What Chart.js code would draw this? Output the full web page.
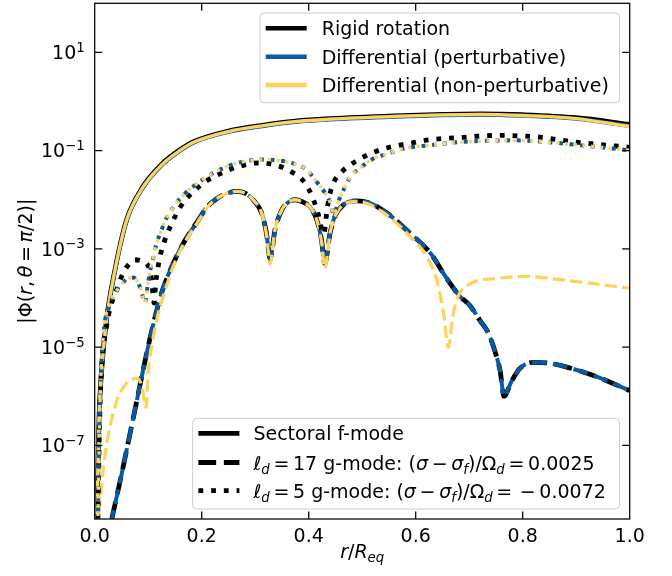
<!DOCTYPE html>
<html>
<head>
<meta charset="utf-8">
<title>Phi profile</title>
<script src="https://cdn.jsdelivr.net/npm/chart.js@4.4.1/dist/chart.umd.min.js"></script>
<style>
  html, body { margin: 0; padding: 0; background: #fff; }
  #wrap { width: 672px; height: 576px; }
</style>
</head>
<body>
<div id="wrap"><canvas id="phi" width="672" height="576"></canvas></div>
<script>
// radius r/R_eq and |Phi| on the equator, for three modes and three rotation laws

// sectoral f-mode
const fModeR = [0.004, 0.008, 0.013, 0.022, 0.038, 0.06, 0.09, 0.125, 0.156, 0.187, 0.25, 0.31, 0.375, 0.44, 0.56, 0.65, 0.72, 0.8, 0.9, 1.0];
const fModeRigid = [3.25e-9, 3.35e-7, 3.45e-6, 3.6e-5, 3.8e-4, 4.0e-3, 1.83e-2, 5.25e-2, 9.8e-2, 0.155, 0.251, 0.324, 0.399, 0.448, 0.512, 0.548, 0.563, 0.538, 0.468, 0.342];
const fModePert = [3.15e-9, 3.25e-7, 3.35e-6, 3.45e-5, 3.65e-4, 3.84e-3, 1.75e-2, 5.0e-2, 9.35e-2, 0.149, 0.241, 0.311, 0.383, 0.43, 0.492, 0.527, 0.54, 0.512, 0.445, 0.318];
const fModeNonPert = [3.2e-9, 3.3e-7, 3.4e-6, 3.5e-5, 3.7e-4, 3.9e-3, 1.78e-2, 5.1e-2, 9.5e-2, 0.151, 0.245, 0.316, 0.389, 0.437, 0.5, 0.535, 0.548, 0.52, 0.45, 0.309];

// l_d = 17 g-mode (rigid and perturbative coincide)
const g17R = [0.032, 0.05, 0.07, 0.09, 0.105, 0.125, 0.15, 0.169, 0.194, 0.21, 0.228, 0.245, 0.265, 0.282, 0.296, 0.312, 0.321, 0.328, 0.337, 0.35, 0.362, 0.374, 0.388, 0.402, 0.415, 0.424, 0.43, 0.44, 0.449, 0.465, 0.49, 0.515, 0.55, 0.589, 0.627, 0.658, 0.683, 0.701, 0.72, 0.735, 0.751, 0.758, 0.765, 0.779, 0.795, 0.82, 0.85, 0.876, 0.938, 1.0];
const g17Rot = [3.2e-9, 2.5e-8, 2.8e-7, 3.2e-6, 1.8e-5, 1.26e-4, 6.0e-4, 1.5e-3, 3.9e-3, 7.1e-3, 1.05e-2, 1.32e-2, 1.48e-2, 1.35e-2, 1.0e-2, 5.4e-3, 2.1e-3, 6.3e-4, 2.45e-3, 6.3e-3, 8.9e-3, 1.0e-2, 9.1e-3, 7.2e-3, 3.9e-3, 1.5e-3, 5.0e-4, 2.1e-3, 4.6e-3, 7.9e-3, 9.5e-3, 8.5e-3, 5.0e-3, 2.1e-3, 8.3e-4, 2.5e-4, 1.07e-4, 7.1e-5, 3.5e-5, 2.0e-5, 6.5e-6, 3.2e-6, 1.0e-6, 2.0e-6, 3.7e-6, 4.9e-6, 4.7e-6, 4.1e-6, 2.5e-6, 1.3e-6];
const g17NonPertR = [0.007, 0.019, 0.038, 0.06, 0.078, 0.088, 0.096, 0.1, 0.108, 0.116, 0.128, 0.15, 0.169, 0.194, 0.21, 0.228, 0.245, 0.265, 0.282, 0.296, 0.312, 0.321, 0.328, 0.337, 0.35, 0.362, 0.374, 0.388, 0.402, 0.415, 0.424, 0.43, 0.44, 0.449, 0.465, 0.49, 0.515, 0.55, 0.589, 0.62, 0.64, 0.652, 0.661, 0.67, 0.68, 0.7, 0.75, 0.81, 0.85, 0.91, 1.0];
const g17NonPert = [3.2e-9, 5.9e-8, 6.2e-7, 1.86e-6, 2.3e-6, 1.66e-6, 5.9e-7, 3.2e-6, 1.26e-5, 3.6e-5, 1.07e-4, 5.4e-4, 1.4e-3, 3.7e-3, 6.9e-3, 1.05e-2, 1.32e-2, 1.48e-2, 1.35e-2, 1.0e-2, 5.4e-3, 2.0e-3, 5.0e-4, 2.45e-3, 6.3e-3, 8.9e-3, 1.0e-2, 9.1e-3, 7.2e-3, 3.9e-3, 1.4e-3, 4.0e-4, 2.1e-3, 4.6e-3, 7.9e-3, 9.3e-3, 7.9e-3, 4.5e-3, 1.8e-3, 7.1e-4, 2.2e-4, 5.0e-5, 1.0e-5, 4.5e-5, 1.12e-4, 1.9e-4, 2.5e-4, 2.75e-4, 2.5e-4, 2.1e-4, 1.58e-4];

// l_d = 5 g-mode (both differential laws coincide)
const g5RigidR = [0.006, 0.009, 0.013, 0.022, 0.029, 0.041, 0.053, 0.065, 0.075, 0.088, 0.1, 0.106, 0.111, 0.114, 0.118, 0.122, 0.131, 0.144, 0.16, 0.181, 0.206, 0.237, 0.268, 0.305, 0.337, 0.368, 0.393, 0.409, 0.418, 0.428, 0.435, 0.443, 0.462, 0.493, 0.524, 0.555, 0.589, 0.624, 0.658, 0.689, 0.723, 0.758, 0.792, 0.826, 0.895, 1.0];
const g5Rigid = [3.2e-9, 2.5e-7, 4.0e-6, 2.6e-5, 6.3e-5, 1.48e-4, 3.2e-4, 5.0e-4, 6.0e-4, 5.6e-4, 4.5e-4, 2.5e-4, 7.9e-5, 2.0e-4, 4.0e-4, 6.9e-4, 1.5e-3, 3.3e-3, 7.1e-3, 1.35e-2, 2.3e-2, 3.5e-2, 4.7e-2, 5.6e-2, 5.1e-2, 3.7e-2, 2.2e-2, 1.0e-2, 5.0e-3, 2.0e-3, 7.1e-3, 1.78e-2, 3.7e-2, 6.5e-2, 9.5e-2, 0.12, 0.141, 0.166, 0.178, 0.186, 0.2, 0.204, 0.2, 0.191, 0.151, 0.117];
const g5DiffR = [0.006, 0.009, 0.012, 0.017, 0.029, 0.044, 0.06, 0.072, 0.08, 0.087, 0.094, 0.099, 0.104, 0.11, 0.116, 0.125, 0.135, 0.15, 0.169, 0.206, 0.24, 0.262, 0.29, 0.318, 0.345, 0.371, 0.396, 0.415, 0.43, 0.44, 0.447, 0.455, 0.465, 0.477, 0.502, 0.521, 0.546, 0.577, 0.627, 0.677, 0.726, 0.789, 0.85, 0.907, 1.0];
const g5Diff = [3.2e-9, 2.5e-7, 3.4e-6, 2.2e-5, 7.9e-5, 1.58e-4, 2.4e-4, 2.6e-4, 2.2e-4, 1.4e-4, 7.9e-5, 1.8e-4, 3.8e-4, 6.9e-4, 1.32e-3, 2.45e-3, 4.4e-3, 7.9e-3, 1.35e-2, 2.75e-2, 4.4e-2, 5.4e-2, 6.3e-2, 6.6e-2, 6.3e-2, 5.5e-2, 4.1e-2, 2.3e-2, 1.4e-2, 8.9e-3, 5.0e-3, 8.9e-3, 1.58e-2, 2.8e-2, 5.0e-2, 6.9e-2, 8.5e-2, 0.11, 0.129, 0.148, 0.158, 0.162, 0.148, 0.129, 0.102];

// axes
const yMin = 3.162e-9;
const yMax = 100;
const xTickValues = [0.2, 0.4, 0.6, 0.8];
const yTickValues = [1e1, 1e-1, 1e-3, 1e-5, 1e-7];
const yTickExponents = ['1', '\u22121', '\u22123', '\u22125', '\u22127'];

const BLACK = '#000000';
const BLUE = '#0a5aa3';
const YELLOW = '#ffd35b';
const FONT = '"DejaVu Sans"';
const FS = 19;

function line(xs, ys, color, width, style, offset, order) {
  let dash = [];
  if (style === 'dashed') dash = [3.7 * width, 1.6 * width];
  if (style === 'dotted') dash = [width, 1.65 * width];
  return {
    data: xs.map((x, i) => ({ x: x, y: ys[i] })),
    borderColor: color,
    borderWidth: width,
    borderDash: dash,
    borderDashOffset: offset,
    borderCapStyle: 'butt',
    pointRadius: 0,
    fill: false,
    clip: 0,
    order: order,
    cubicInterpolationMode: 'monotone'
  };
}

const datasets = [
  line(g5DiffR, g5Diff, YELLOW, 3.3, 'dotted', 6, 1),
  line(g5DiffR, g5Diff, BLUE, 4.0, 'dotted', 3, 2),
  line(g5RigidR, g5Rigid, BLACK, 4.8, 'dotted', 0, 3),
  line(g17NonPertR, g17NonPert, YELLOW, 3.3, 'dashed', 11, 4),
  line(g17R, g17Rot, BLUE, 4.0, 'dashed', 6, 5),
  line(g17R, g17Rot, BLACK, 4.8, 'dashed', 0, 6),
  line(fModeR, fModeNonPert, YELLOW, 3.3, 'solid', 0, 7),
  line(fModeR, fModePert, BLUE, 4.0, 'solid', 0, 8),
  line(fModeR, fModeRigid, BLACK, 4.8, 'solid', 0, 9)
];

// text pieces: '' upright, 'i' italic, 'is' italic subscript, 'g' small math gap
function runFont(s, size) {
  const fs = s.includes('s') ? size * 0.7 : size;
  return (s.includes('i') ? 'italic ' : '') + fs + 'px ' + FONT;
}

function runsWidth(ctx, runs, size) {
  let w = 0;
  for (const [t, s] of runs) {
    if (s === 'g') { w += 0.195 * size; continue; }
    ctx.font = runFont(s, size);
    w += ctx.measureText(t).width;
  }
  return w;
}

function drawRuns(ctx, runs, x, y, size) {
  for (const [t, s] of runs) {
    if (s === 'g') { x += 0.195 * size; continue; }
    ctx.font = runFont(s, size);
    ctx.fillText(t, x, s.includes('s') ? y + 4 : y);
    x += ctx.measureText(t).width;
  }
  return x;
}

function legendFrame(ctx, l, t, r, b) {
  ctx.beginPath();
  ctx.roundRect(l, t, r - l, b - t, 4);
  ctx.fillStyle = 'rgba(255,255,255,0.8)';
  ctx.fill();
  ctx.strokeStyle = '#cccccc';
  ctx.lineWidth = 1;
  ctx.stroke();
}

function handle(ctx, x0, x1, y, color, width, style) {
  ctx.save();
  ctx.strokeStyle = color;
  ctx.lineWidth = width;
  ctx.lineCap = 'butt';
  if (style === 'dashed') ctx.setLineDash([3.7 * width, 1.6 * width]);
  if (style === 'dotted') ctx.setLineDash([width, 1.65 * width]);
  ctx.beginPath();
  ctx.moveTo(x0, y);
  ctx.lineTo(x1, y);
  ctx.stroke();
  ctx.restore();
}

const G = ['', 'g'];
const modeLabels = [
  [['Sectoral f-mode', '']],
  [['\u2113', 'i'], ['d', 'is'], G, ['=', ''], G, ['17 g-mode: (', ''], ['\u03c3', 'i'], G, ['\u2212', ''], G, ['\u03c3', 'i'], ['f', 'is'], [')/\u03a9', ''], ['d', 'is'], G, ['=', ''], G, ['0.0025', '']],
  [['\u2113', 'i'], ['d', 'is'], G, ['=', ''], G, ['5 g-mode: (', ''], ['\u03c3', 'i'], G, ['\u2212', ''], G, ['\u03c3', 'i'], ['f', 'is'], [')/\u03a9', ''], ['d', 'is'], G, ['=', ''], G, G, ['\u2212', ''], G, ['0.0072', '']]
];
const modeStyles = ['solid', 'dashed', 'dotted'];
const lawLabels = ['Rigid rotation', 'Differential (perturbative)', 'Differential (non-perturbative)'];
const lawColors = [BLACK, BLUE, YELLOW];

const decorations = {
  id: 'decorations',
  afterDraw(chart) {
    const ctx = chart.ctx;
    const a = chart.chartArea;
    const xs = chart.scales.x;
    const ys = chart.scales.y;
    ctx.save();

    // frame and inward ticks
    ctx.strokeStyle = '#000';
    ctx.lineWidth = 1.25;
    ctx.strokeRect(a.left, a.top, a.right - a.left, a.bottom - a.top);
    ctx.beginPath();
    for (const v of xTickValues) {
      const px = xs.getPixelForValue(v);
      ctx.moveTo(px, a.bottom); ctx.lineTo(px, a.bottom - 7.5);
      ctx.moveTo(px, a.top); ctx.lineTo(px, a.top + 7.5);
    }
    for (const v of yTickValues) {
      const py = ys.getPixelForValue(v);
      ctx.moveTo(a.left, py); ctx.lineTo(a.left + 7.5, py);
      ctx.moveTo(a.right, py); ctx.lineTo(a.right - 7.5, py);
    }
    ctx.stroke();

    // y tick labels 10^n
    ctx.fillStyle = '#000';
    ctx.textBaseline = 'alphabetic';
    ctx.textAlign = 'left';
    yTickValues.forEach((v, i) => {
      const py = ys.getPixelForValue(v);
      ctx.font = FS + 'px ' + FONT;
      const wb = ctx.measureText('10').width;
      ctx.font = (FS * 0.7) + 'px ' + FONT;
      const we = ctx.measureText(yTickExponents[i]).width;
      const x0 = a.left - 10 - wb - we;
      ctx.font = FS + 'px ' + FONT;
      ctx.fillText('10', x0, py + 6.7);
      ctx.font = (FS * 0.7) + 'px ' + FONT;
      ctx.fillText(yTickExponents[i], x0 + wb, py - 0.5);
    });

    // axis titles
    const xTitle = [['r', 'i'], ['/', ''], ['R', 'i'], ['eq', 'is']];
    const xw = runsWidth(ctx, xTitle, FS);
    drawRuns(ctx, xTitle, (a.left + a.right) / 2 - xw / 2, 558, FS);

    const yTitle = [['|\u03a6(', ''], ['r', 'i'], [',', ''], G, ['\u03b8', 'i'], G, ['=', ''], G, ['\u03c0', 'i'], ['/2)|', '']];
    const yw = runsWidth(ctx, yTitle, FS);
    ctx.save();
    ctx.translate(32, (a.top + a.bottom) / 2);
    ctx.rotate(-Math.PI / 2);
    drawRuns(ctx, yTitle, -yw / 2, 0, FS);
    ctx.restore();

    // rotation-law legend
    legendFrame(ctx, 260, 13, 619.5, 102.7);
    const rowY = [28.3, 56.7, 85];
    lawLabels.forEach((label, i) => {
      handle(ctx, 265.7, 306.7, rowY[i], lawColors[i], 4.5, 'solid');
      ctx.fillStyle = '#000';
      ctx.font = FS + 'px ' + FONT;
      ctx.fillText(label, 321.7, rowY[i] + 7);
    });

    // mode legend
    legendFrame(ctx, 192.7, 418.3, 619.5, 509);
    const rowY2 = [433.3, 462.5, 490.7];
    modeLabels.forEach((runs, i) => {
      handle(ctx, 198.4, 239.4, rowY2[i], BLACK, 4.8, modeStyles[i]);
      ctx.fillStyle = '#000';
      drawRuns(ctx, runs, 253.4, rowY2[i] + 7, FS);
    });

    ctx.restore();
  }
};

new Chart(document.getElementById('phi'), {
  type: 'line',
  data: { datasets: datasets },
  options: {
    responsive: false,
    animation: false,
    events: [],
    layout: { padding: { left: 0, top: 3.3, right: 42.3, bottom: 0 } },
    plugins: { legend: { display: false }, tooltip: { enabled: false } },
    scales: {
      x: {
        type: 'linear',
        min: 0,
        max: 1,
        grid: { display: false, drawTicks: false },
        border: { display: false },
        ticks: {
          stepSize: 0.2,
          maxRotation: 0,
          padding: 7,
          color: '#000',
          font: { family: 'DejaVu Sans', size: FS },
          callback: v => v.toFixed(1)
        },
        afterFit(scale) { scale.height = 57; }
      },
      y: {
        type: 'logarithmic',
        min: yMin,
        max: yMax,
        grid: { display: false, drawTicks: false },
        border: { display: false },
        ticks: { display: false },
        afterFit(scale) { scale.width = 94.7; }
      }
    }
  },
  plugins: [decorations]
});
</script>
</body>
</html>
